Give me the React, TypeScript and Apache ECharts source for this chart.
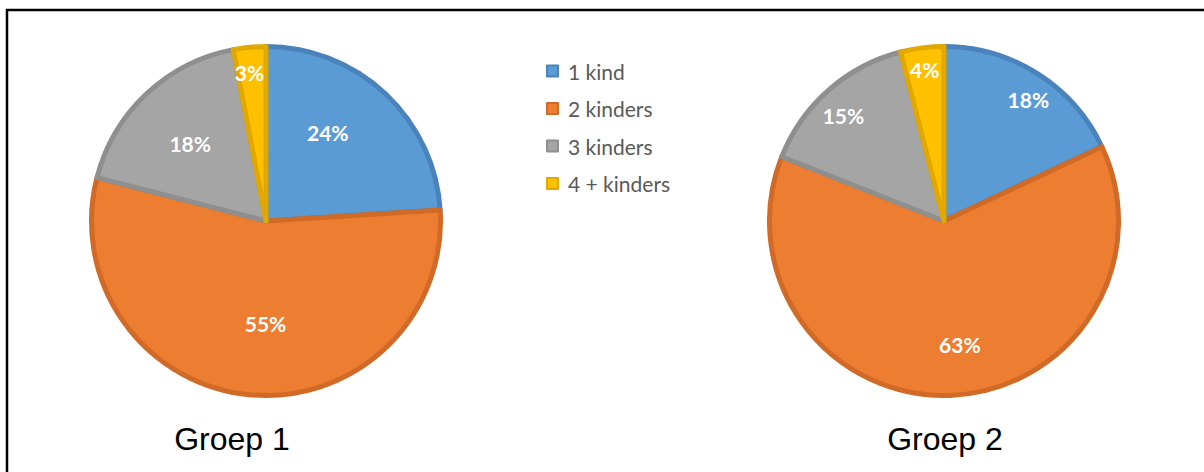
import React, { useEffect, useRef } from "react";
import * as echarts from "echarts";

const categories = ["1 kind", "2 kinders", "3 kinders", "4 + kinders"];
const groep1Values = [24, 55, 18, 3];
const groep2Values = [18, 63, 15, 4];
const groupTitles = ["Groep 1", "Groep 2"];

const fillColors = ["#5B9BD5", "#ED7D31", "#A5A5A5", "#FFC000"];
const borderColors = ["#4A83BC", "#D06A26", "#8F8F8F", "#E0A800"];

// label nudges (pixels) to mimic the original's label placement
const offsets1 = [[0, -23], [8, 13], [-14, -12], [-8, -59]];
const offsets2 = [[36, -45], [13, 33], [-41, -38], [-8, -62]];

function buildData(values: number[], offs: number[][]) {
  return values.map((v, i) => ({
    name: categories[i],
    value: v,
    itemStyle: { color: fillColors[i], borderColor: borderColors[i], borderWidth: 5 },
    label: { offset: offs[i] },
  }));
}

export default function App() {
  const ref = useRef<HTMLDivElement>(null);
  useEffect(() => {
    if (!ref.current) return;
    const chart = echarts.init(ref.current, null, { renderer: "svg" });
    const labelStyle = {
      show: true,
      position: "inside" as const,
      formatter: "{c}%",
      color: "#FFFFFF",
      fontFamily: "Lato",
      fontWeight: "bold" as const,
      fontSize: 21,
    };
    const pieBase = {
      type: "pie" as const,
      radius: 174.5,
      startAngle: 90,
      clockwise: true,
      labelLine: { show: false },
      emphasis: { disabled: true },
      label: labelStyle,
    };
    chart.setOption({
      animation: false,
      backgroundColor: "#FFFFFF",
      legend: {
        orient: "vertical",
        left: 546,
        top: 60,
        padding: 0,
        itemWidth: 11,
        itemHeight: 11,
        itemGap: 15.5,
        icon: "rect",
        data: categories,
        textStyle: {
          color: "#595959",
          fontFamily: "Lato",
          fontSize: 21,
          lineHeight: 22,
          padding: [0, 0, 0, 5],
        },
        selectedMode: false,
      },
      graphic: [
        {
          type: "rect",
          shape: { x: 7, y: 10, width: 1400, height: 700 },
          style: { fill: "none", stroke: "#000000", lineWidth: 2.5 },
          silent: true,
        },
        {
          type: "text",
          x: 232,
          y: 439,
          style: {
            text: groupTitles[0],
            fontFamily: "Liberation Sans",
            fontSize: 32,
            fill: "#000000",
            textAlign: "center",
            textVerticalAlign: "middle",
          },
        },
        {
          type: "text",
          x: 945,
          y: 439,
          style: {
            text: groupTitles[1],
            fontFamily: "Liberation Sans",
            fontSize: 32,
            fill: "#000000",
            textAlign: "center",
            textVerticalAlign: "middle",
          },
        },
      ],
      series: [
        { ...pieBase, name: groupTitles[0], center: [266, 221], data: buildData(groep1Values, offsets1) },
        { ...pieBase, name: groupTitles[1], center: [944, 221], data: buildData(groep2Values, offsets2) },
      ],
    });
    return () => chart.dispose();
  }, []);
  return (
    <div
      ref={ref}
      style={{ position: "fixed", left: 0, top: 0, width: 1204, height: 472 }}
    />
  );
}
